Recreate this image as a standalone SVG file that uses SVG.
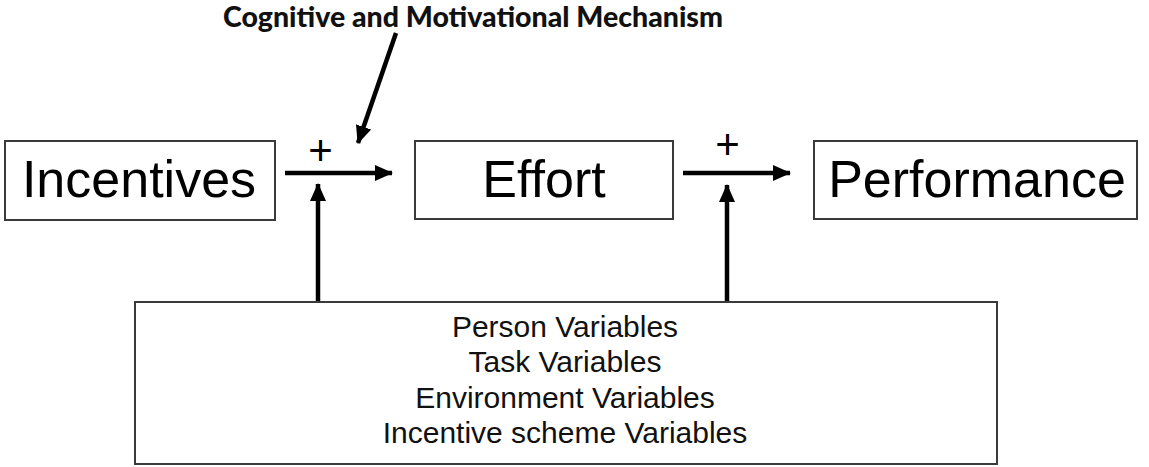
<svg xmlns="http://www.w3.org/2000/svg" width="1149" height="467" viewBox="0 0 1149 467">
  <style>
    .box { fill: #ffffff; stroke: #3a3a3a; stroke-width: 2; }
    .big { font-family: "Liberation Sans", Arial, sans-serif; font-size: 52px; fill: #000; text-anchor: middle; }
    .var { font-family: "Liberation Sans", Arial, sans-serif; font-size: 30px; fill: #111; text-anchor: middle; }
    .sign { font-family: "Liberation Sans", Arial, sans-serif; font-size: 42px; fill: #000; text-anchor: middle; }
    .title { font-family: Lato, "Open Sans", sans-serif; font-weight: 900; font-size: 28px; fill: #111; }
    .conn { stroke: #000; stroke-width: 4.5; fill: none; marker-end: url(#head); }
  </style>
  <defs>
    <marker id="head" markerUnits="userSpaceOnUse" markerWidth="18" markerHeight="18" viewBox="0 0 18 18" refX="17" refY="9" orient="auto">
      <path d="M0,1 L18,9 L0,17 Z" fill="#000"/>
    </marker>
  </defs>
  <rect width="1149" height="467" fill="#ffffff"/>

  <g id="title">
    <text class="title" x="223" y="27" textLength="500" lengthAdjust="spacingAndGlyphs">Cognitive and Motivational Mechanism</text>
  </g>

  <g id="incentives">
    <rect class="box" x="5" y="141" width="270" height="79"/>
    <text class="big" x="139" y="197">Incentives</text>
  </g>

  <g id="effort">
    <rect class="box" x="415" y="141" width="258" height="78"/>
    <text class="big" x="544" y="197">Effort</text>
  </g>

  <g id="performance">
    <rect class="box" x="814" y="141" width="323" height="78"/>
    <text class="big" x="977" y="197">Performance</text>
  </g>

  <g id="moderators">
    <rect class="box" x="135" y="302" width="862" height="162"/>
    <text class="var" x="565" y="337">Person Variables</text>
    <text class="var" x="565" y="372">Task Variables</text>
    <text class="var" x="565" y="408">Environment Variables</text>
    <text class="var" x="565" y="443">Incentive scheme Variables</text>
  </g>

  <g id="connectors">
    <line class="conn" x1="285" y1="173" x2="392" y2="173"/>
    <line class="conn" x1="683" y1="173" x2="790" y2="173"/>
    <line class="conn" x1="318" y1="301" x2="318" y2="184"/>
    <line class="conn" x1="727" y1="301" x2="727" y2="185"/>
    <line class="conn" x1="396" y1="33" x2="358" y2="143"/>
    <text class="sign" x="320.5" y="165">+</text>
    <text class="sign" x="727.5" y="158.5">+</text>
  </g>
</svg>
